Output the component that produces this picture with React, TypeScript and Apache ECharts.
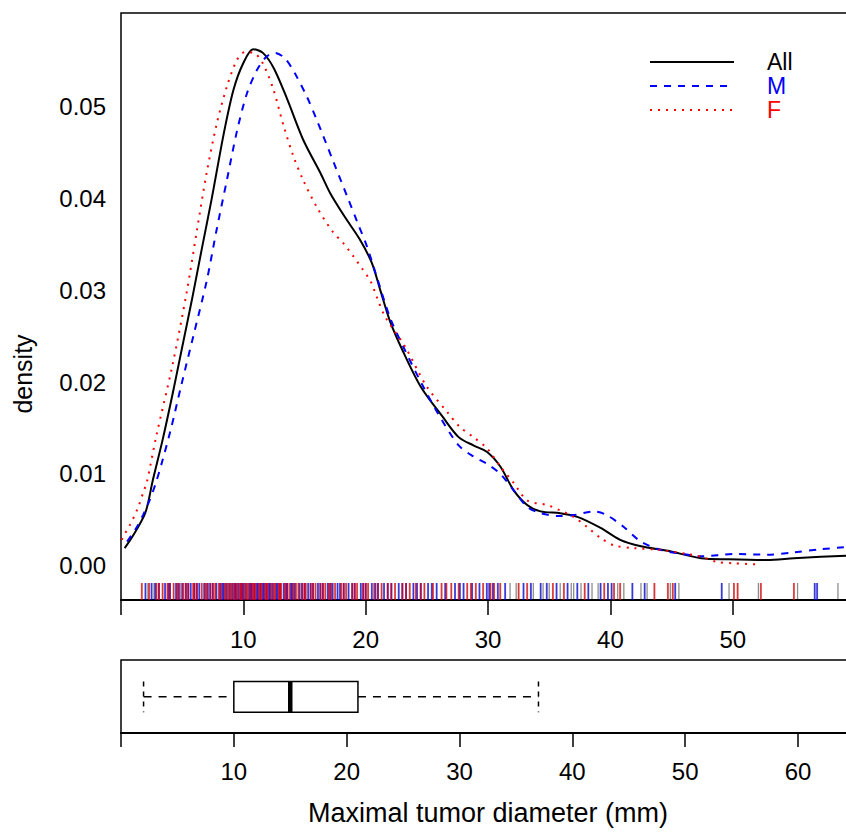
import React, { useEffect, useRef } from "react";
import * as echarts from "echarts";

// Kernel density estimates: [diameter (mm), density]
const densityAll: number[][] = [
  [0.3, 0.0019], [1.0, 0.0033], [2.0, 0.0058], [2.6, 0.0093], [3.4, 0.0137], [4.2, 0.0186],
  [5.0, 0.0238], [5.8, 0.029], [6.6, 0.0345], [7.4, 0.0399], [8.4, 0.0471], [9.2, 0.0519], [10.0, 0.0548],
  [10.8, 0.0563], [11.6, 0.0559], [12.5, 0.0542], [13.6, 0.0508], [14.9, 0.0464], [16.3, 0.0428],
  [17.1, 0.0406], [18.3, 0.038], [19.5, 0.0356], [20.5, 0.033], [21.2, 0.030], [22.0, 0.0266],
  [23.0, 0.0235], [24.5, 0.0195], [26.3, 0.0162], [27.6, 0.0140], [28.8, 0.0131], [29.9, 0.0124],
  [31.0, 0.0108], [32.1, 0.0082], [33.2, 0.0066], [34.3, 0.0059], [35.9, 0.0057], [37.3, 0.0053],
  [39.2, 0.0041], [40.8, 0.0028], [42.5, 0.0021], [44.7, 0.0016], [47.4, 0.0008], [49.6, 0.00068],
  [52.8, 0.0006], [55.0, 0.0008], [57.2, 0.00096], [59.3, 0.00107], [60.5, 0.0011],
];

const densityM: number[][] = [
  [0.5, 0.0026], [1.3, 0.0042], [1.8, 0.0055], [2.3, 0.007], [2.8, 0.0088], [3.4, 0.0115],
  [4.1, 0.015], [4.9, 0.0195], [6.0, 0.0255], [7.0, 0.031], [7.8, 0.0365], [8.65, 0.042], [9.5, 0.0475],
  [10.3, 0.0515], [11.1, 0.054], [11.9, 0.0555], [12.6, 0.0559], [13.4, 0.0553], [14.2, 0.0537],
  [15.2, 0.0511], [16.0, 0.0486], [17.4, 0.0439], [18.5, 0.0402], [19.3, 0.0375], [20.1, 0.0348],
  [20.9, 0.0315], [22.0, 0.027], [23.2, 0.0235], [24.55, 0.0199], [25.9, 0.0166], [27.6, 0.0131],
  [28.8, 0.0119], [29.9, 0.0111], [31.0, 0.0100], [32.1, 0.0082], [33.2, 0.0064], [34.3, 0.0057],
  [35.7, 0.0054], [37.0, 0.0055], [38.7, 0.0059], [39.7, 0.0055], [41.1, 0.0042], [42.5, 0.0026],
  [44.1, 0.0017], [45.7, 0.0013], [47.4, 0.001], [50.1, 0.00125], [52.8, 0.00118], [55.0, 0.00144],
  [57.2, 0.00177], [59.1, 0.002], [60.5, 0.0021],
];

const densityF: number[][] = [
  [0.06, 0.0028], [0.33, 0.0035], [0.68, 0.0043], [0.95, 0.005], [1.23, 0.0058], [1.47, 0.0066],
  [1.88, 0.0082], [2.1, 0.009], [2.9, 0.0142], [4.2, 0.0218], [5.37, 0.0298], [6.2, 0.0365],
  [7.0, 0.0428], [7.83, 0.0482], [8.65, 0.0522], [9.47, 0.0551], [10.15, 0.056], [11.0, 0.0558],
  [11.65, 0.0546], [12.46, 0.0519], [13.3, 0.0479], [14.1, 0.0446], [14.9, 0.042], [16.0, 0.0391],
  [17.3, 0.0364], [18.2, 0.0351], [19.0, 0.0337], [19.7, 0.0324], [20.4, 0.031], [20.9, 0.0293],
  [21.6, 0.0271], [23.2, 0.0239], [25.0, 0.0195], [26.75, 0.0166], [27.7, 0.0151], [28.8, 0.014],
  [29.9, 0.0128], [31.0, 0.0108], [32.1, 0.009], [33.2, 0.0071], [34.8, 0.0066], [35.9, 0.006],
  [37.0, 0.0053], [38.1, 0.0042], [39.2, 0.003], [40.3, 0.0022], [41.9, 0.0019], [44.1, 0.0017],
  [46.3, 0.00125], [47.4, 0.00096], [48.7, 0.0004], [50.1, 0.00024], [51.9, 0.00013],
];

// Rug values (individual diameters)
const rugF: number[] = [
  1.7, 2.3, 2.9, 3.1, 3.4, 3.8, 4.0, 4.3, 4.6, 4.8, 5.1, 5.3, 5.5, 5.9, 6.0, 6.2, 6.6, 6.9, 7.0, 7.3,
  7.5, 7.7, 8.0, 8.2, 8.5, 8.7, 8.8, 9.0, 9.2, 9.3, 9.5, 9.7, 9.8, 9.9, 10.1, 10.3, 10.4, 10.6, 10.8,
  10.9, 11.0, 11.3, 11.4, 11.5, 11.8, 11.9, 12.0, 12.3, 12.5, 12.6, 12.9, 13.0, 13.1, 13.4, 13.6,
  13.8, 14.1, 14.3, 14.5, 14.8, 15.0, 15.1, 15.5, 15.7, 15.9, 16.3, 16.5, 16.7, 17.0, 17.2, 17.5,
  18.0, 18.2, 18.4, 18.9, 19.1, 19.3, 19.8, 20.0, 20.2, 20.7, 21.0, 21.3, 21.8, 22.1, 22.4, 23.0,
  23.3, 23.6, 24.1, 24.5, 24.8, 25.5, 26.2, 26.6, 27.0, 27.6, 28.3, 28.6, 29.0, 29.6, 30.2, 30.5,
  31.0, 32.5, 33.2, 35.3, 36.2, 37.9, 39.5, 40.3, 40.8, 43.6, 44.7, 45.1, 50.1, 50.4, 52.3, 55.0,
];
const rugM: number[] = [
  2.0, 2.5, 2.8, 3.1, 3.6, 3.9, 4.0, 4.5, 4.7, 5.0, 5.3, 5.5, 5.7, 6.0, 6.2, 6.4, 6.8, 7.1, 7.3, 7.5,
  7.8, 8.1, 8.3, 8.4, 8.6, 8.9, 9.1, 9.3, 9.4, 9.6, 9.8, 9.9, 10.0, 10.2, 10.5, 10.6, 10.7, 10.9,
  11.1, 11.2, 11.4, 11.6, 11.7, 11.9, 12.1, 12.2, 12.4, 12.7, 12.8, 13.0, 13.3, 13.5, 13.6, 13.9,
  14.0, 14.2, 14.6, 14.8, 15.0, 15.3, 15.5, 15.7, 16.1, 16.3, 16.5, 16.9, 17.1, 17.3, 17.7, 17.9,
  18.2, 18.6, 18.9, 19.1, 19.6, 19.8, 20.0, 20.5, 20.8, 21.0, 21.5, 21.8, 22.1, 22.7, 23.0, 23.3,
  23.9, 24.2, 24.5, 25.1, 25.4, 25.8, 26.5, 27.3, 27.7, 28.0, 28.7, 29.3, 29.9, 30.1, 30.4, 30.8,
  31.4, 32.9, 33.5, 34.3, 34.8, 35.6, 36.5, 37.3, 38.2, 39.2, 39.8, 40.1, 41.8, 42.8, 45.3, 49.1,
  56.7, 56.9,
];
const rugOther: number[] = [
  2.2, 2.7, 31.8, 32.3, 33.7, 34.5, 35.0, 35.9, 36.8, 37.0, 37.6, 38.5, 39.0, 40.6, 41.1, 42.5,
  43.0, 44.9, 45.6, 49.7, 52.1, 55.3, 58.6,
];

// Boxplot statistics: lower whisker, Q1, median, Q3, upper whisker
const boxStats: number[] = [2, 10, 15, 21, 37];

// Axis ticks / labels
const topTicks = [0, 10, 20, 30, 40, 50];
const topLabels = [10, 20, 30, 40, 50];
const bottomTicks = [0, 10, 20, 30, 40, 50, 60];
const bottomLabels = [10, 20, 30, 40, 50, 60];
const yLabels = [0, 0.01, 0.02, 0.03, 0.04, 0.05];

const FONT = "Liberation Sans, Arial, Helvetica, sans-serif";

export default function App() {
  const ref = useRef<HTMLDivElement>(null);

  useEffect(() => {
    if (!ref.current) return;
    const chart = echarts.init(ref.current, undefined, { renderer: "svg" });

    const rugSeries = (vals: number[], color: string, w: number) => ({
      type: "custom",
      xAxisIndex: 0,
      yAxisIndex: 0,
      clip: true,
      silent: true,
      data: vals.map((v) => [v]),
      renderItem: (_p: any, api: any) => {
        const p = api.coord([api.value(0), -0.003762]);
        return {
          type: "line",
          shape: { x1: p[0], y1: p[1], x2: p[0], y2: p[1] - 17 },
          style: { stroke: color, lineWidth: w },
        };
      },
    });

    const option: any = {
      animation: false,
      backgroundColor: "#fff",
      grid: [
        {
          left: 121, top: 13, width: 760, height: 587, show: true, borderColor: "#000", borderWidth: 1.5,
          outerBoundsMode: "none", containLabel: false,
        },
        {
          left: 121, top: 660, width: 780, height: 73, show: true, borderColor: "#000", borderWidth: 1.5,
          outerBoundsMode: "none", containLabel: false,
        },
      ],
      xAxis: [
        {
          type: "value",
          gridIndex: 0,
          min: 0,
          max: 62.12,
          axisLine: { show: true, onZero: false, lineStyle: { color: "#000", width: 2 } },
          axisTick: { show: true, length: 15, customValues: topTicks, lineStyle: { color: "#000", width: 1.5 } },
          axisLabel: {
            customValues: topLabels,
            margin: 27,
            color: "#000",
            fontSize: 24,
            lineHeight: 24,
            fontFamily: FONT,
          },
          splitLine: { show: false },
        },
        {
          type: "value",
          gridIndex: 1,
          min: 0,
          max: 69.13,
          axisLine: { show: true, onZero: false, lineStyle: { color: "#000", width: 2 } },
          axisTick: { show: true, length: 14, customValues: bottomTicks, lineStyle: { color: "#000", width: 1.5 } },
          axisLabel: {
            customValues: bottomLabels,
            margin: 26,
            color: "#000",
            fontSize: 24,
            lineHeight: 24,
            fontFamily: FONT,
          },
          splitLine: { show: false },
        },
      ],
      yAxis: [
        {
          type: "value",
          gridIndex: 0,
          min: -0.003762,
          max: 0.06025,
          axisLine: { show: false },
          axisTick: { show: false },
          splitLine: { show: false },
          axisLabel: {
            customValues: yLabels,
            formatter: (v: number) => v.toFixed(2),
            margin: 15,
            color: "#000",
            fontSize: 24,
            fontFamily: FONT,
          },
        },
        {
          type: "value",
          gridIndex: 1,
          min: 0,
          max: 1,
          show: false,
        },
      ],
      series: [
        rugSeries([...rugM, ...rugF, ...rugOther], "rgba(0,0,0,0.45)", 1.3),
        rugSeries(rugM, "rgba(0,0,255,0.6)", 1.9),
        rugSeries(rugF, "rgba(255,0,0,0.6)", 1.9),
        {
          type: "line",
          name: "All",
          xAxisIndex: 0,
          yAxisIndex: 0,
          data: densityAll,
          showSymbol: false,
          symbol: "none",
          smooth: 0.3,
          lineStyle: { color: "#000", width: 2 },
        },
        {
          type: "line",
          name: "M",
          xAxisIndex: 0,
          yAxisIndex: 0,
          data: densityM,
          showSymbol: false,
          symbol: "none",
          smooth: 0.3,
          lineStyle: { color: "#0000ff", width: 2, type: [7, 7] },
        },
        {
          type: "line",
          name: "F",
          xAxisIndex: 0,
          yAxisIndex: 0,
          data: densityF,
          showSymbol: false,
          symbol: "none",
          smooth: 0.3,
          lineStyle: { color: "#ff0000", width: 2, type: [2, 6] },
        },
        {
          type: "custom",
          xAxisIndex: 1,
          yAxisIndex: 1,
          silent: true,
          data: [boxStats],
          renderItem: (_p: any, api: any) => {
            const yc = 0.495;
            const h = 0.212;
            const lo = api.coord([api.value(0), yc]);
            const q1 = api.coord([api.value(1), yc]);
            const md = api.coord([api.value(2), yc]);
            const q3 = api.coord([api.value(3), yc]);
            const hi = api.coord([api.value(4), yc]);
            const top = api.coord([api.value(1), yc + h])[1];
            const bot = api.coord([api.value(1), yc - h])[1];
            const dash = { stroke: "#000", lineWidth: 1.5, lineDash: [8, 7] };
            const capDash = { stroke: "#000", lineWidth: 1.5, lineDash: [5, 5] };
            return {
              type: "group",
              children: [
                { type: "line", shape: { x1: lo[0], y1: lo[1], x2: q1[0], y2: q1[1] }, style: dash },
                { type: "line", shape: { x1: q3[0], y1: q3[1], x2: hi[0], y2: hi[1] }, style: dash },
                { type: "line", shape: { x1: lo[0], y1: top, x2: lo[0], y2: bot }, style: capDash },
                { type: "line", shape: { x1: hi[0], y1: top, x2: hi[0], y2: bot }, style: capDash },
                {
                  type: "rect",
                  shape: { x: q1[0], y: top, width: q3[0] - q1[0], height: bot - top },
                  style: { fill: "#fff", stroke: "#000", lineWidth: 1.5 },
                },
                { type: "line", shape: { x1: md[0], y1: top, x2: md[0], y2: bot }, style: { stroke: "#000", lineWidth: 4.5 } },
              ],
            };
          },
        },
      ],
      graphic: [
        { type: "line", shape: { x1: 650, y1: 62, x2: 734, y2: 62 }, style: { stroke: "#000", lineWidth: 2 } },
        { type: "line", shape: { x1: 650, y1: 86, x2: 734, y2: 86 }, style: { stroke: "#0000ff", lineWidth: 2, lineDash: [7, 7] } },
        { type: "line", shape: { x1: 650, y1: 110, x2: 734, y2: 110 }, style: { stroke: "#ff0000", lineWidth: 2, lineDash: [2, 6] } },
        { type: "text", x: 767, y: 62, style: { text: "All", fill: "#000", fontSize: 23, lineHeight: 22, fontFamily: FONT, textAlign: "left", textVerticalAlign: "middle" } },
        { type: "text", x: 767, y: 86, style: { text: "M", fill: "#0000ff", fontSize: 23, lineHeight: 22, fontFamily: FONT, textAlign: "left", textVerticalAlign: "middle" } },
        { type: "text", x: 767, y: 110, style: { text: "F", fill: "#ff0000", fontSize: 23, lineHeight: 22, fontFamily: FONT, textAlign: "left", textVerticalAlign: "middle" } },
        {
          type: "text",
          x: 23,
          y: 374,
          rotation: Math.PI / 2,
          style: { text: "density", fill: "#000", fontSize: 25, fontFamily: FONT, textAlign: "center", textVerticalAlign: "middle" },
        },
        {
          type: "text",
          x: 488,
          y: 813,
          style: { text: "Maximal tumor diameter (mm)", fill: "#000", fontSize: 27, fontFamily: FONT, textAlign: "center", textVerticalAlign: "middle" },
        },
      ],
    };

    chart.setOption(option);
    return () => chart.dispose();
  }, []);

  return (
    <div
      ref={ref}
      style={{ position: "fixed", left: 0, top: 0, width: 846, height: 834, background: "#fff" }}
    />
  );
}
